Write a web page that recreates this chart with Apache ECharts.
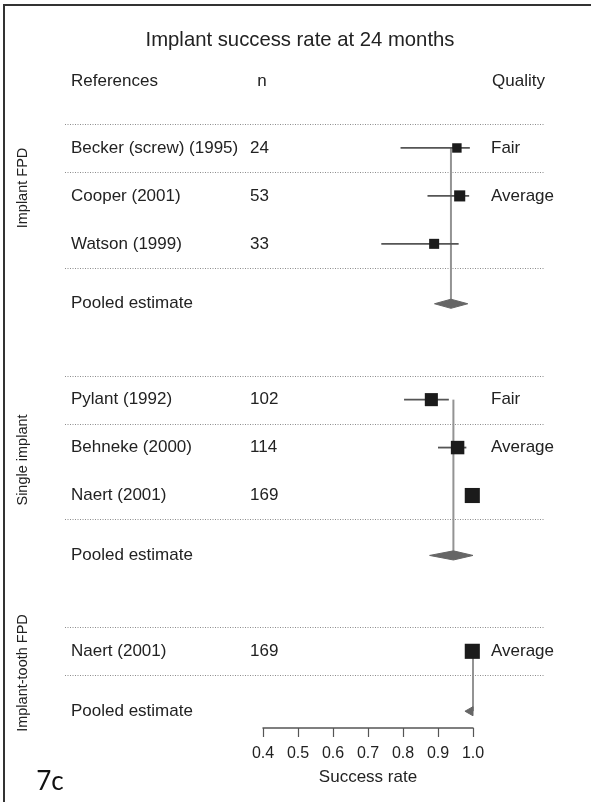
<!DOCTYPE html>
<html>
<head>
<meta charset="utf-8">
<script src="https://cdn.jsdelivr.net/npm/echarts@6/dist/echarts.min.js"></script>
<style>
  html, body { margin: 0; padding: 0; background: #fff; }
  #chart { width: 591px; height: 802px; }
</style>
</head>
<body>
<div id="chart"></div>
<script>
// study rows
var studyNames = ['Becker (screw) (1995)', 'Cooper (2001)', 'Watson (1999)', 'Pylant (1992)', 'Behneke (2000)', 'Naert (2001)', 'Naert (2001)'];
var sampleN = [24, 53, 33, 102, 114, 169, 169];
var quality = ['Fair', 'Average', '', 'Fair', 'Average', '', 'Average'];
var estimate = [0.954, 0.962, 0.889, 0.881, 0.956, 0.998, 0.998];
var ciLow = [0.793, 0.870, 0.738, 0.803, 0.900, null, null];
var ciHigh = [0.991, 0.989, 0.959, 0.931, 0.981, null, null];
var studyRow = [1, 3, 5, 11.5, 13.5, 15.5, 22];

// pooled estimates per group
var groupNames = ['Implant FPD', 'Single implant', 'Implant-tooth FPD'];
var pooledEst = [0.937, 0.944, 1.0];
var pooledLow = [0.890, 0.876, 0.977];
var pooledHigh = [0.985, 1.0, 1.0];
var pooledRow = [7.5, 18, 24.5];
var firstRow = [1, 11.5, 22];

var dividerRows = [0, 2, 6, 10.5, 12.5, 16.5, 21, 23];

var FONT = "'Liberation Sans', Arial, sans-serif";
var TXT = '#222';

var chart = echarts.init(document.getElementById('chart'));

var tableRows = [];
studyNames.forEach(function (s, i) {
  tableRows.push([studyRow[i], s, String(sampleN[i]), quality[i]]);
});
pooledRow.forEach(function (r) {
  tableRows.push([r, 'Pooled estimate', '', '']);
});

function txt(x, y, s, opt) {
  return {
    type: 'text', x: x, y: y,
    style: Object.assign({ text: s, fill: TXT, fontSize: 17, fontFamily: FONT, align: 'left', verticalAlign: 'middle' }, opt || {})
  };
}

function sideLabel(y, s) {
  return { type: 'text', x: 23, y: y, rotation: Math.PI / 2, style: { text: s, fill: TXT, fontSize: 14.5, fontFamily: FONT, align: 'center', verticalAlign: 'middle' } };
}

var option = {
  animation: false,
  backgroundColor: '#fff',
  grid: { left: 263, right: 118, top: 124, bottom: 74, outerBoundsMode: 'none' },
  xAxis: {
    type: 'value', min: 0.4, max: 1.0, interval: 0.1, position: 'bottom',
    axisLine: { onZero: false, lineStyle: { color: '#555', width: 1.5 } },
    axisTick: { length: 9, lineStyle: { color: '#555', width: 1.2 } },
    axisLabel: { margin: 18, color: TXT, fontSize: 16, fontFamily: FONT, formatter: function (v) { return v.toFixed(1); } },
    splitLine: { show: false },
    name: 'Success rate', nameLocation: 'middle', nameGap: 41,
    nameTextStyle: { color: TXT, fontSize: 17, fontFamily: FONT }
  },
  yAxis: { type: 'value', min: 0, max: 25.2, inverse: true, show: false },
  graphic: [
    { type: 'polyline', shape: { points: [[4, 802], [4, 5], [591, 5]] }, style: { stroke: '#333', lineWidth: 2, fill: null } },
    txt(300, 40, 'Implant success rate at 24 months', { fontSize: 20.3, align: 'center' }),
    txt(71, 81, 'References'),
    txt(262, 81, 'n', { align: 'center' }),
    txt(492, 81, 'Quality'),
    sideLabel(188, groupNames[0]),
    sideLabel(460, groupNames[1]),
    sideLabel(673, groupNames[2]),
    { type: 'text', x: 50, y: 782, style: { text: '7c', fill: '#111', fontSize: 26, fontFamily: 'Lato, Roboto, sans-serif', align: 'center', verticalAlign: 'middle' } }
  ],
  series: [
    {
      // dotted dividers
      type: 'custom', z: 1, silent: true,
      data: dividerRows.map(function (r) { return [r]; }),
      renderItem: function (params, api) {
        var y = Math.round(api.coord([0.4, api.value(0)])[1]) + 0.5;
        return { type: 'line', shape: { x1: 65, y1: y, x2: 544, y2: y }, style: { stroke: '#8c8c8c', lineWidth: 1, lineDash: [1, 1.5] } };
      }
    },
    {
      // table text
      type: 'custom', z: 2, silent: true,
      data: tableRows,
      encode: { y: 0 },
      renderItem: function (params, api) {
        var d = tableRows[params.dataIndex];
        var y = api.coord([0.4, d[0]])[1];
        return { type: 'group', children: [txt(71, y, d[1]), txt(250, y, d[2]), txt(491, y, d[3])] };
      }
    },
    {
      // vertical pooled-estimate lines
      type: 'custom', z: 3, silent: true,
      data: pooledEst.map(function (v, i) { return [v, firstRow[i], pooledRow[i]]; }),
      renderItem: function (params, api) {
        var a = api.coord([api.value(0), api.value(1)]);
        var b = api.coord([api.value(0), api.value(2)]);
        return { type: 'line', shape: { x1: a[0], y1: a[1], x2: b[0], y2: b[1] }, style: { stroke: '#939393', lineWidth: 2 } };
      }
    },
    {
      // confidence intervals
      type: 'custom', z: 4, silent: true,
      data: ciLow.map(function (v, i) { return [v, ciHigh[i], studyRow[i]]; }).filter(function (d) { return d[0] != null; }),
      renderItem: function (params, api) {
        var a = api.coord([api.value(0), api.value(2)]);
        var b = api.coord([api.value(1), api.value(2)]);
        return { type: 'line', shape: { x1: a[0], y1: a[1], x2: b[0], y2: b[1] }, style: { stroke: '#555', lineWidth: 1.8 } };
      }
    },
    {
      // pooled diamonds
      type: 'custom', z: 5, silent: true,
      data: pooledEst.map(function (v, i) { return [pooledLow[i], v, pooledHigh[i], pooledRow[i]]; }),
      renderItem: function (params, api) {
        var r = api.value(3), h = 0.19;
        var pts = [
          api.coord([api.value(0), r]),
          api.coord([api.value(1), r - h]),
          api.coord([api.value(2), r]),
          api.coord([api.value(1), r + h])
        ];
        return { type: 'polygon', shape: { points: pts }, style: { fill: '#666', stroke: '#666', lineWidth: 1 } };
      }
    },
    {
      // study estimates
      type: 'scatter', z: 6, silent: true,
      symbol: 'rect',
      symbolSize: function (v) { return 6 + Math.sqrt(v[2]) * 0.7; },
      itemStyle: { color: '#1b1b1b', opacity: 1 },
      data: estimate.map(function (v, i) { return [v, studyRow[i], sampleN[i]]; })
    }
  ]
};
chart.setOption(option);
</script>
</body>
</html>
